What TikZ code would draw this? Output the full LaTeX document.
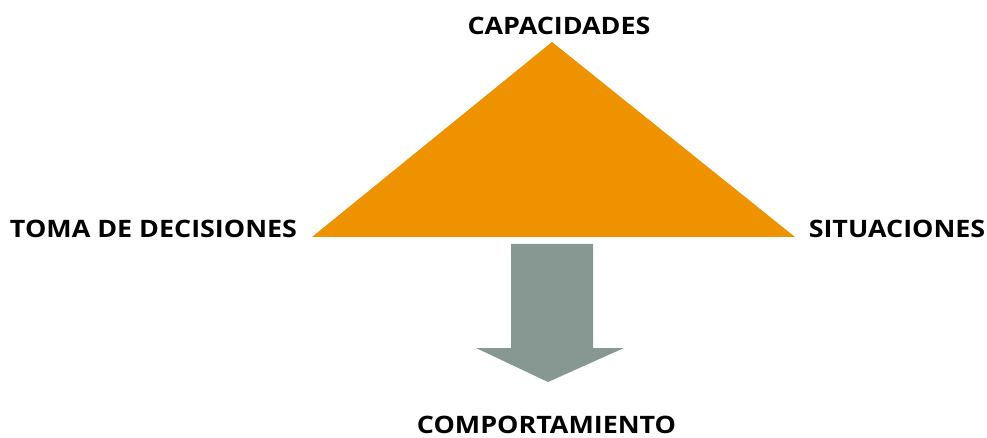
\documentclass[tikz,border=0pt]{standalone}
\usepackage{fontspec}
\setmainfont[FakeStretch=1.12]{Open Sans}
\definecolor{naranja}{HTML}{EF9200}
\definecolor{gris}{HTML}{879893}
\tikzset{
    etiqueta/.style={font=\fontsize{24}{27}\selectfont\bfseries, inner sep=0pt, text=black}
}
\begin{document}
\begin{tikzpicture}[x=1pt,y=-1pt]
        \useasboundingbox (0,0) rectangle (987,438);
        % triangulo
        \coordinate (cima) at (552,42);
        \coordinate (izq) at (312,237);
        \coordinate (der) at (795,237);
        \fill[naranja] (izq) -- (cima) -- (der) -- cycle;
        % flecha
        \fill[gris] (511,244) -- (593,244) -- (593,348) -- (624,348)
                    -- (548,382) -- (476,348) -- (511,348) -- cycle;
        \node[etiqueta] (capacidades) at (559,26) {CAPACIDADES};
        \node[etiqueta] (toma) at (153.5,228.5) {TOMA DE DECISIONES};
        \node[etiqueta] (situaciones) at (897,228.5) {SITUACIONES};
        \node[etiqueta] (comportamiento) at (546.5,424.5) {COMPORTAMIENTO};
    \end{tikzpicture}
\end{document}
